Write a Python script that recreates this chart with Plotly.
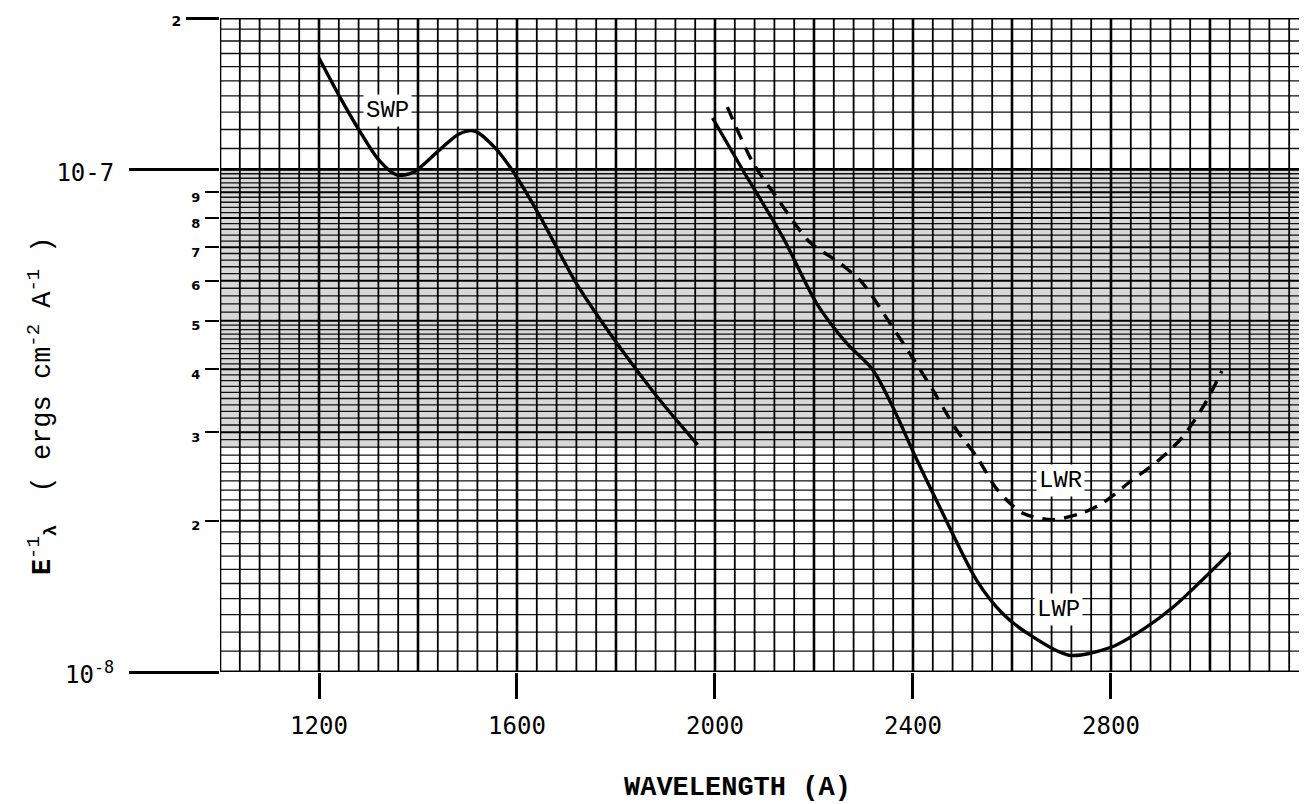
import numpy as np
import plotly.graph_objects as go

# ---------------- data ----------------
SWP_WL = [1200, 1240, 1281, 1321, 1358, 1392, 1443, 1483, 1514, 1554, 1592, 1645, 1716, 1766, 1827, 1888, 1965]
SWP_E = [1.665e-7, 1.405e-7, 1.197e-7, 1.043e-7, 9.74e-8, 9.88e-8, 1.092e-7, 1.176e-7, 1.192e-7, 1.108e-7,
         9.9e-8, 8.11e-8, 6.02e-8, 5.06e-8, 4.17e-8, 3.48e-8, 2.83e-8]

LWP_WL = [1995, 2056, 2137, 2205, 2266, 2319, 2359, 2408, 2460, 2529, 2580, 2630, 2715, 2800, 2867, 2927, 3041]
LWP_E = [1.265e-7, 9.97e-8, 7.33e-8, 5.42e-8, 4.51e-8, 3.99e-8, 3.37e-8, 2.64e-8, 2.07e-8, 1.52e-8,
         1.31e-8, 1.196e-8, 1.08e-8, 1.12e-8, 1.22e-8, 1.35e-8, 1.73e-8]

LWR_WL = [2025, 2076, 2124, 2191, 2252, 2298, 2353, 2393, 2440, 2488, 2529, 2571, 2622, 2681, 2741, 2784,
          2843, 2893, 2944, 2990, 3024]
LWR_E = [1.33e-7, 1.034e-7, 8.81e-8, 7.17e-8, 6.51e-8, 5.94e-8, 4.95e-8, 4.31e-8, 3.64e-8, 3.03e-8, 2.68e-8,
         2.30e-8, 2.07e-8, 2.01e-8, 2.07e-8, 2.17e-8, 2.41e-8, 2.62e-8, 2.93e-8, 3.42e-8, 3.97e-8]

CURVE_LABELS = ["SWP", "LWR", "LWP"]
LABEL_WL = [1338, 2697, 2693]
LABEL_E = [1.31e-7, 2.40e-8, 1.33e-8]

X_TICKS = [1200, 1600, 2000, 2400, 2800]
X_TICK_TEXT = ["1200", "1600", "2000", "2400", "2800"]

Y_SMALL_TICKS = [2e-8, 3e-8, 4e-8, 5e-8, 6e-8, 7e-8, 8e-8, 9e-8]
Y_SMALL_TEXT = ["2", "3", "4", "5", "6", "7", "8", "9"]
Y_DECADE_TICKS = [1e-8, 1e-7]
Y_DECADE_TEXT = ["10<sup>-8</sup>", "10-7"]
Y_TOP_TICK = [2e-7]
Y_TOP_TEXT = ["2"]

X_MIN, X_MAX = 1000, 3196
Y_MIN, Y_MAX = 1e-8, 2e-7

# graph-paper grid
GRID_X_MINOR = list(range(1000, 3200, 40))
GRID_X_MAJOR = list(range(1000, 3200, 200))
GRID_Y_MANT_LOW = [round(1.0 + 0.1 * i, 2) for i in range(41)] + [round(5.2 + 0.2 * i, 2) for i in range(24)]
GRID_Y_MANT_UP = [round(1.0 + 0.1 * i, 2) for i in range(11)]
BAND_LO, BAND_HI = 2.8e-8, 1e-7

# ---------------- build grid line traces ----------------
def vlines(xs):
    xx, yy = [], []
    for v in xs:
        xx += [v, v, None]
        yy += [Y_MIN, Y_MAX, None]
    return xx, yy

def hlines(ys):
    xx, yy = [], []
    for v in ys:
        xx += [X_MIN, X_MAX, None]
        yy += [v, v, None]
    return xx, yy

h_all = sorted(set([m * 1e-8 for m in GRID_Y_MANT_LOW] + [m * 1e-7 for m in GRID_Y_MANT_UP]))
h_int = [m * 1e-8 for m in range(1, 10)] + [1e-7, 2e-7]
h_minor = [v for v in h_all if all(abs(v - w) / w > 1e-6 for w in h_int)]

fig = go.Figure()

# grey photocopy band
fig.add_trace(go.Scatter(x=[X_MIN, X_MAX, X_MAX, X_MIN, X_MIN],
                         y=[BAND_LO, BAND_LO, BAND_HI, BAND_HI, BAND_LO],
                         fill="toself", fillcolor="#d8d8d8", line=dict(width=0),
                         mode="lines", hoverinfo="skip", showlegend=False, yaxis="y"))

x1, y1 = hlines(h_minor)
fig.add_trace(go.Scatter(x=x1, y=y1, mode="lines", line=dict(color="#111", width=1.3),
                         hoverinfo="skip", showlegend=False, yaxis="y2"))
x1, y1 = hlines(h_int)
fig.add_trace(go.Scatter(x=x1, y=y1, mode="lines", line=dict(color="#000", width=2),
                         hoverinfo="skip", showlegend=False, yaxis="y2"))
x1, y1 = vlines([v for v in GRID_X_MINOR if v not in GRID_X_MAJOR])
fig.add_trace(go.Scatter(x=x1, y=y1, mode="lines", line=dict(color="#000", width=1.8),
                         hoverinfo="skip", showlegend=False, yaxis="y2"))
x1, y1 = vlines(GRID_X_MAJOR)
fig.add_trace(go.Scatter(x=x1, y=y1, mode="lines", line=dict(color="#000", width=2.6),
                         hoverinfo="skip", showlegend=False, yaxis="y2"))
# heavy borders (1e-8, 1e-7, top)
x1, y1 = hlines([1e-8, 1e-7, 2e-7])
fig.add_trace(go.Scatter(x=x1, y=y1, mode="lines", line=dict(color="#000", width=2.8),
                         hoverinfo="skip", showlegend=False, yaxis="y2"))

# curves
fig.add_trace(go.Scatter(x=SWP_WL, y=SWP_E, mode="lines", name="SWP",
                         line=dict(color="#000", width=3.4, shape="spline", smoothing=0.8),
                         showlegend=False, yaxis="y3"))
fig.add_trace(go.Scatter(x=LWP_WL, y=LWP_E, mode="lines", name="LWP",
                         line=dict(color="#000", width=3.4, shape="spline", smoothing=0.8),
                         showlegend=False, yaxis="y3"))
fig.add_trace(go.Scatter(x=LWR_WL, y=LWR_E, mode="lines", name="LWR",
                         line=dict(color="#000", width=3.4, shape="spline", smoothing=0.8, dash="13px,9px"),
                         showlegend=False, yaxis="y3"))

for t, xv, yv in zip(CURVE_LABELS, LABEL_WL, LABEL_E):
    fig.add_annotation(x=xv, y=np.log10(yv), xref="x", yref="y", text=t, showarrow=False,
                       font=dict(family="Liberation Mono", size=24, color="#000"),
                       bgcolor="white", borderpad=2)

yrange = [np.log10(Y_MIN), np.log10(Y_MAX)]
common_y = dict(type="log", range=yrange, showgrid=False, zeroline=False, showline=False,
                ticks="outside", tickcolor="#000", automargin=False, fixedrange=True)

# the page body has an 8px margin: size the figure so the plot lands where the reference has it
fig.update_layout(
    width=1299, height=796,
    margin=dict(l=212, r=0, t=10, b=132),
    paper_bgcolor="white", plot_bgcolor="white",
    xaxis=dict(range=[X_MIN, X_MAX], showgrid=False, zeroline=False, showline=False,
               tickvals=X_TICKS, ticktext=X_TICK_TEXT, ticks="outside", ticklen=26, tickwidth=3,
               tickcolor="#000", ticklabelstandoff=6, fixedrange=True,
               tickfont=dict(family="DejaVu Sans Mono", size=24, color="#000"), automargin=False),
    yaxis=dict(**common_y, tickvals=Y_SMALL_TICKS, ticktext=Y_SMALL_TEXT, ticklen=14, tickwidth=2,
               ticklabelshift=5, ticklabelstandoff=2,
               tickfont=dict(family="DejaVu Sans", size=13, color="#000", weight="bold")),
    yaxis2=dict(**common_y, overlaying="y", side="left", tickvals=Y_DECADE_TICKS, ticktext=Y_DECADE_TEXT,
                ticklen=90, tickwidth=3, ticklabelstandoff=10, ticklabelshift=3,
                tickfont=dict(family="DejaVu Sans Mono", size=24, color="#000")),
    yaxis3=dict(**common_y, overlaying="y", side="left", tickvals=Y_TOP_TICK, ticktext=Y_TOP_TEXT,
                ticklen=33, tickwidth=2.5, ticklabelstandoff=2, ticklabelshift=3,
                tickfont=dict(family="DejaVu Sans", size=14, color="#000", weight="bold")),
    showlegend=False,
)

fig.add_annotation(xref="paper", yref="paper", x=0.4765, y=-0.177, showarrow=False,
                   text="<b>WAVELENGTH (A)</b>", xanchor="center", yanchor="middle",
                   font=dict(family="Liberation Mono", size=27, color="#000"))
fig.add_annotation(xref="paper", yref="paper", x=-0.1638, y=0.408, showarrow=False, textangle=-90,
                   text="<b>E</b><sup>-1</sup><sub><b>λ</b></sub>  ( ergs cm<sup>-2</sup> A<sup>-1</sup> )",
                   xanchor="center", yanchor="middle",
                   font=dict(family="Liberation Mono", size=27, color="#000"))

fig.write_html("out.html")
